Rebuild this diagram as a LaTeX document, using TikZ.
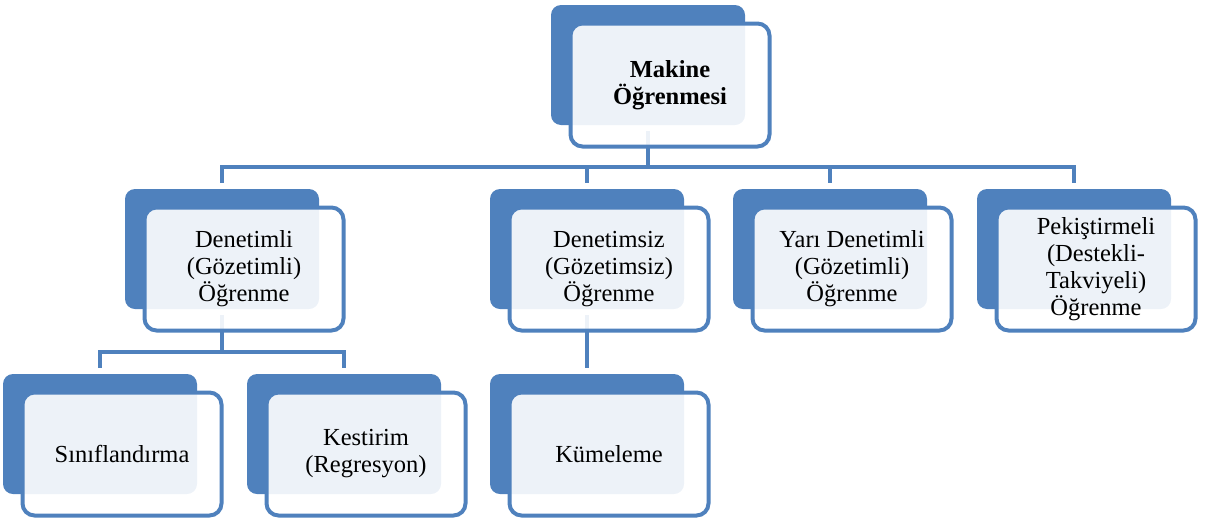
\documentclass[tikz,border=0pt]{standalone}
\usepackage{fontspec}
\setmainfont{Liberation Serif}
\newfontfamily\boxfont{Liberation Serif}
\usepackage{tikz}
\usetikzlibrary{positioning,calc}
\definecolor{smartblue}{HTML}{4F81BD}

\begin{document}
\begin{tikzpicture}[x=1pt, y=-1pt,
    every node/.style={font=\boxfont\fontsize{24.5pt}{27pt}\selectfont},
    back/.style={fill=smartblue, rounded corners=10pt, minimum width=194pt, minimum height=120pt, outer sep=6pt},
    front/.style={draw=smartblue, line width=4pt, fill=white, fill opacity=0.9, text opacity=1, rounded corners=12pt, minimum width=199pt, minimum height=123pt, align=center},
    conn/.style={draw=smartblue, line width=4pt}]
    \useasboundingbox (0,0) rectangle (1205,520);
    % back boxes
    \node (mlb) [back] at (648,65) {};
    \node (dlb) [back] at (222,249) {};
    \node (dsb) [back] at (587,249) {};
    \node (ydb) [back] at (830,249) {};
    \node (pkb) [back] at (1074,249) {};
    \node (snb) [back] at (100,434) {};
    \node (ksb) [back] at (344,434) {};
    \node (kmb) [back] at (587,434) {};
    % connectors
    \coordinate (bus) at (0,167);
    \coordinate (sub) at (0,352);
    \foreach \n in {dlb,dsb,ydb,pkb}
      \draw[conn] (mlb.south) -- (mlb.south |- bus) -| (\n.north);
    \draw[conn] (dlb.south) -- (dlb.south |- sub) -| (snb.north);
    \draw[conn] (dlb.south |- sub) -| (ksb.north);
    \draw[conn] (dsb) -- (kmb);
    % front boxes
    \node (ml) [front] at ($(mlb)+(22,20)$) {\textbf{Makine}\\\textbf{Öğrenmesi}};
    \node (dl) [front] at ($(dlb)+(22,20)$) {Denetimli\\(Gözetimli)\\Öğrenme};
    \node (ds) [front] at ($(dsb)+(22,20)$) {Denetimsiz\\(Gözetimsiz)\\Öğrenme};
    \node (yd) [front] at ($(ydb)+(22,20)$) {Yarı Denetimli\\(Gözetimli)\\Öğrenme};
    \node (pk) [front] at ($(pkb)+(22,20)$) {Pekiştirmeli\\(Destekli-\\Takviyeli)\\Öğrenme};
    \node (sn) [front] at ($(snb)+(22,20)$) {Sınıflandırma};
    \node (ks) [front] at ($(ksb)+(22,20)$) {Kestirim\\(Regresyon)};
    \node (km) [front] at ($(kmb)+(22,20)$) {Kümeleme};
\end{tikzpicture}
\end{document}
